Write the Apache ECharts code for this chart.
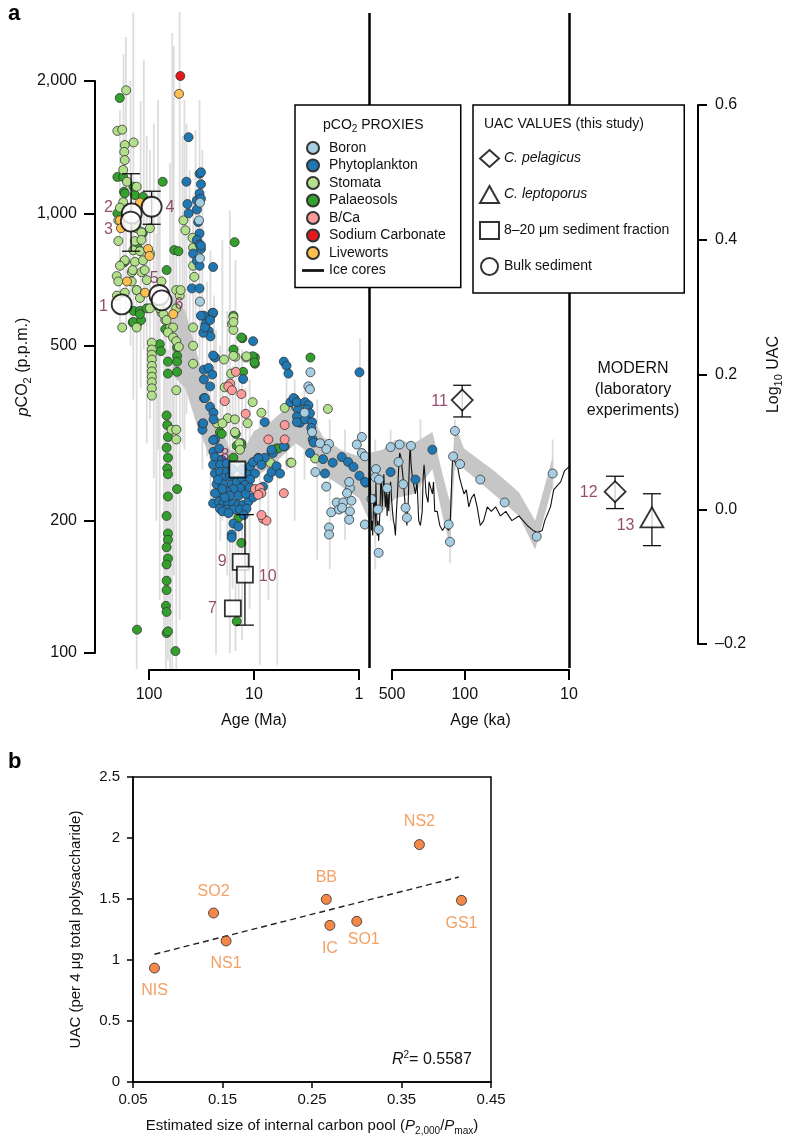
<!DOCTYPE html>
<html><head><meta charset="utf-8">
<script src="https://cdn.jsdelivr.net/npm/echarts@6/dist/echarts.min.js"></script>
<style>html,body{margin:0;padding:0;background:#fff}#c{width:786px;height:1139px}</style>
</head><body><div id="c"></div>
<script>
const FONT = '"Liberation Sans", Arial, Helvetica, sans-serif';

// ---------- Panel a: pCO2 proxies [age (Ma), pCO2 (p.p.m.)] ----------
const boron = [[32.7,1058],[33.4,964],[32.7,790],[32.7,630],[2.9,435],[3.04,404],[2.93,398],[1.93,299],[2.05,291],[2.6,258],[2.05,239],[1.63,220],[1.41,220],[1.18,222],[1.22,237],[1.24,245],[1.84,209],[1.22,210],[1.24,201],[1.93,193],[1.93,186],[0.94,310],[1.05,298],[0.94,285],[0.88,280],[0.88,196],[0.65,169],[0.69,262],[0.70,251],[0.645,248],[0.65,191],[0.66,212],[0.76,224],[0.50,294],[0.41,298],[0.32,296],[0.42,272],[0.38,242],[0.36,214],[0.35,203],[0.54,237],[0.136,179],[0.122,320],[0.127,280],[0.109,269],[0.07,248],[0.041,220],[0.0203,184],[0.0143,256],[0.14,196],[2.35,300],[1.55,212],[1.45,214],[1.3,231],[3.3,352],[2.8,318]];
const phytoplankton = [[42,1490],[44,1180],[33,1230],[32,1165],[33,1110],[35,1070],[43,1050],[42,1000],[35,1020],[34,955],[33,900],[35,870],[33,850],[32,830],[38,810],[35,780],[33,760],[24.5,755],[39,675],[33,675],[30,585],[29,560],[27,540],[26,525],[24.5,594],[30.4,535],[10.2,512],[5.2,460],[4.9,450],[0.99,435],[23.5,470],
[30,441],[30,419],[30,380],[31,332],[31,322],[32,1240],[32,1080],[32,845],[32,585],[29.3,550],[26.2,572],[24.5,475],[27,445],[25,430],[26.2,404],[29.3,380],[26.2,363],[24.3,352],[24.3,340],[30.5,333],[23.5,306],[24.3,287],[4.7,432],[4.5,372],[4.1,378],[3.8,358],[3.65,334],[12.7,420],[7.9,335],[9.1,278],[6.8,287],[7.9,278],
[24.5,305],[21.5,292],[23.5,279],[20.3,275],[24.5,268],[21,268],[18.2,270],[23.5,256],[21,258],[18.2,258],[19.6,250],[16.9,252],[22.7,242],[19.6,242],[16.3,242],[14.6,245],[13.1,250],[11.8,256],[10.9,266],[10.2,272],[9.1,277],[8.5,268],[9.8,256],[10.9,248],[12.2,241],[13.6,237],[15.7,236],[18.2,233],[21.1,231],[23.5,231],[24.5,219],[21.6,221],[19.6,219],[17.6,219],[15.7,219],[14.1,217],[12.7,217],[11.3,221],[10.2,226],[9.1,231],[8.2,239],[7.3,250],[6.8,258],[21.1,213],[18.2,212],[15.7,212],[13.6,212],[11.8,213],[15.7,197],[14.1,194],[16.3,186],[16.3,183],[6.6,285],[6.1,266],[5.65,256],[5.2,295],[6.8,290],
[17,228],[19,226],[20,236],[22,248],[14,228],[12,230],[16,262],[13,262],[20,210],[17.5,208],[12.5,206],[11,238],
[4.2,380],[3.9,372],[3.27,372],[3.03,366],[3.15,358],[2.93,351],[3.9,345],[3.9,335],[3.27,340],[2.8,335],[2.85,325],[2.76,306],[2.7,301],[2.93,285],[2.2,276],[1.78,271],[1.46,279],[1.27,272],[1.13,265],[0.99,253],[0.86,244],[2.11,256],
[0.5,258],[0.2,290],[0.29,248],[0.877,245]];
const stomata = [[165,1905],[200,1540],[180,1550],[170,1430],[140,1450],[172,1380],[170,1322],[176,1255],[162,1180],[131,1150],[176,1060],[189,1030],[196,964],[131,925],[118,905],[98,925],[196,865],[136,865],[118,870],[141,824],[122,820],[98,810],[170,782],[136,776],[114,782],[203,720],[146,735],[118,735],[196,700],[146,700],[105,705],[131,669],[170,660],[122,642],[98,608],[76,700],[55,669],[51,650],[180,550],[131,550],[76,595],[70,572],[63,550],[55,608],[79,608],[73,590],[68,572],[59,550],[66,536],[59,522],[55,512],[52,497],[189,760],[143,743],[110,743],[202,650],
[47,964],[45,915],[38.5,880],[38,835],[38,760],[37,717],[50,669],[38,550],[16.2,560],[15.7,543],[11.9,470],[15,472],
[15.7,580],[15.7,566],[15.7,474],[11.8,473],[19.3,465],[16.5,432],[19,402],[10.3,372],[17.8,342],[22.6,333],[20,333],[15.2,340],[8.5,352],[11.5,333],[15.2,318],[13.8,300],[5.1,361],[4,363],[3.4,361],
[7,271],[4.5,271],[13.6,290],[3.9,363],[3.4,358],[1.98,359],[4.4,271],[2.62,277],
[55,396],[61,322],[55,322],[55,306],[38,500],[38,455],
[94,508],[94,490],[94,477],[94,465],[94,450],[94,437],[94,425],[94,413],[94,400],[94,385]];
const palaeosols = [[190,1830],[200,1210],[176,1210],[173,1120],[170,1110],[141,1150],[136,1100],[114,1090],[74,1180],[200,1000],[116,905],[115,900],[128,835],[173,775],[170,776],[68,743],[140,600],[122,600],[143,565],[130,560],[141,566],[119,572],[122,590],[105,608],[70,545],[131,669],[57.5,825],[52.5,820],[15.3,860],[15.7,585],[12.9,520],[15.7,490],[9.8,470],[9.8,455],[2.9,470],[25,590],
[79,504],[77,486],[66,460],[66,432],[54,495],[54,474],[54,460],[54,436],[68,347],[67,330],[66,310],[68,293],[66,278],[67,263],[66,255],[66,227],[68,205],[66,187],[66,181],[68,174],[66,164],[68,159],[68,146],[68,139],[69,128],[68,124],[68,111],[66,112],[56,101],[130,113],[54,236],
[24.8,594],[13.2,522],[10.3,473],[9.9,458],[12.7,436],[21.1,318],[20.3,315],[14.9,315],[13.2,300],[15.7,278],[6.1,292],[5.1,295],
[14.6,296],[13.2,296],[5.85,292],[14.1,203],[13.2,178],[14.6,118]];
const bca = [[14.9,436],[16.9,410],[17.6,404],[16.2,396],[19,374],[13.2,388],[12,350],[7.3,306],[5.1,306],[5.1,330],[9.8,236],[8.8,237],[8.5,231],[9.1,229],[5.2,231],[8.2,202],[7.6,200],[8.5,206]];
const sodiumCarbonate = [[50.3,2053]];
const liveworts = [[122,1058],[189,964],[185,925],[102,830],[99,800],[162,700],[109,660],[58.8,590],[51.7,1870]];

// Ice cores [age (ka), pCO2]
const iceAgeKa = [800,790,780,770,760,750,740,730,720,710,
700,690,680,670,660,650,640,630,620,610,
600,590,580,570,560,550,540,530,520,510,
500,
490,480,470,460,450,440,430,420,410,400,
390,380,370,360,350,340,330,
325,320,310,300,290,
280,270,260,250,245,
240,235,230,220,215,
210,200,195,190,180,
170,160,150,140,135,
130,128,125,120,115,
110,105,100,95,90,
85,80,75,70,65,
60,55,50,45,40,
35,30,25,22,20,
18,17,15,14,13,
12,11,10];
const iceCO2 = [195,230,250,215,190,200,185,210,230,220,
190,245,210,185,200,180,195,215,250,240,
215,235,255,230,215,235,205,230,210,240,
245,
225,210,200,195,185,210,230,260,285,280,
265,250,230,210,195,220,280,
298,270,250,240,230,
245,200,195,210,250,
268,250,230,220,245,
240,230,245,210,210,
195,190,195,190,200,
260,282,275,270,265,
250,240,230,235,215,
225,230,215,195,200,
215,210,215,205,210,
200,205,195,190,188,
190,200,215,235,240,
245,260,265];

// Smoothed envelope [age (Ma)] low / high pCO2
const bandAge  = [60,45,35,28,22,17,13,10,7,5,4,3,2.2,1.5,1,0.8,0.6,0.45,0.3,0.2,0.16,0.136,0.122,0.1,0.05,0.03,0.021,0.0143];
const bandLow  = [430,400,330,290,250,225,230,250,265,285,300,285,255,240,225,200,210,225,230,262,205,175,270,262,228,205,172,240];
const bandHigh = [650,600,480,400,340,290,285,320,335,360,380,355,310,290,280,285,290,305,300,318,255,220,330,292,258,232,200,280];

// Proxy uncertainty ranges [age (Ma)] low / high pCO2
const errAge  = [189,166,141,131,112,98,82,79,69,66,60,55,51,46,41,36,33,31,26,23,20,17,15,13,11,8.8,7.3,6,4.9,4.1,3.3,2.5,1.9,1.36,0.98,0.7,0.5,0.26,0.136,0.122,0.0143,
                 175,150,120,105,90,85,72,63,58,48,44,38,28,24,21,18,16,14,12];
const errLow  = [543,543,377,92,490,340,290,132,92,96,92,92,119,290,377,419,465,261,224,99,200,100,101,107,126,94,132,94,261,200,248,163,155,181,261,155,200,212,160,261,236,
                 700,500,400,300,250,200,110,92,150,300,350,400,280,240,180,150,140,120,150];
const errHigh = [1718,2518,2860,635,2230,1394,1810,1192,635,490,2570,824,2870,1810,1255,1548,1810,1394,824,543,869,1017,782,490,419,340,377,306,441,419,397,377,340,322,520,306,322,340,224,340,306,
                 2300,2000,1800,1500,1600,900,700,1300,2400,1500,1600,1100,700,650,500,600,450,500,400];

// UAC values (this study): log10 UAC
const bulkIds = ['1','2','3','4','5','6'];
const bulkAge = [182,146,149,94.3,79.8,75.7];
const bulkUAC = [0.304,0.439,0.427,0.449,0.318,0.310];
const fracIds = ['7','8','9','10'];
const fracAge = [15.9,14.4,13.4,12.2];
const fracUAC = [-0.147,0.059,-0.078,-0.097];
const pelFossilIds = ['11'];
const pelFossilAge = [0.104];
const pelFossilUAC = [0.162];
const uacErrAge = [148,94.3,12.2,0.104];
const uacErrLow = [0.383,0.423,-0.172,0.137];
const uacErrHigh = [0.498,0.472,-0.008,0.184];
// Modern (laboratory experiments)
const modernSlots = ['m0','m1','m2','m3','m4','m5','m6'];
const modernPel = {id:'12', slot:2, uac:0.026, lo:0.001, hi:0.049};
const modernLep = {id:'13', slot:4, uac:-0.012, lo:-0.054, hi:0.023};

// ---------- Panel b ----------
const bNames = ['NIS','SO2','NS1','BB','IC','SO1','NS2','GS1'];
const bX = [0.074,0.140,0.154,0.266,0.270,0.300,0.370,0.417];
const bY = [0.934,1.385,1.156,1.497,1.284,1.317,1.946,1.489];
const fitX = [0.074,0.414];
const fitY = [1.047,1.680];
const bXTicks = [0.05,0.15,0.25,0.35,0.45];

// ---------- styles ----------
const MAROON = '#7b2148';
const uacLabelPos = {
 '1': {position:'left', distance:3, offset:[0,2]},
 '2': {position:'left', distance:8, offset:[0,-6]},
 '3': {position:'left', distance:7, offset:[0,8]},
 '4': {position:'right', distance:3, offset:[0,1]},
 '5': {position:'top', distance:-2, offset:[-5,0]},
 '6': {position:'right', distance:2, offset:[0,4]},
 '7': {position:'left', distance:7, offset:[0,0]},
 '8': {position:'left', distance:-1, offset:[0,-14]},
 '9': {position:'left', distance:5, offset:[0,0]},
 '10': {position:'right', distance:5, offset:[0,2]},
 '11': {position:'left', distance:3, offset:[0,1]},
 '12': {position:'left', distance:6, offset:[0,1]},
 '13': {position:'left', distance:5, offset:[0,8]}
};
const bLabelPos = {
 NIS:{position:'bottom', distance:9}, SO2:{position:'top', distance:8}, NS1:{position:'bottom', distance:9},
 BB:{position:'top', distance:8}, IC:{position:'bottom', distance:10}, SO1:{position:'bottom', distance:5, offset:[7,0]},
 NS2:{position:'top', distance:9}, GS1:{position:'bottom', distance:10}
};

const zip = (a,b) => a.map((v,i)=>[v,b[i]]);
const rows3 = (a,b,c) => a.map((v,i)=>[v,b[i],c[i]]);

function vRange(color, width){
  return function(params, api){
    const p1 = api.coord([api.value(0), api.value(1)]);
    const p2 = api.coord([api.value(0), api.value(2)]);
    return {type:'line', shape:{x1:p1[0],y1:p1[1],x2:p2[0],y2:p2[1]}, style:{stroke:color, lineWidth:width, opacity:0.8}};
  };
}
function errBar(params, api){
  const x = api.value(0);
  const lo = api.coord([x, api.value(1)]);
  const hi = api.coord([x, api.value(2)]);
  const w = 9, st = {stroke:'#111', lineWidth:1.3};
  return {type:'group', children:[
    {type:'line', shape:{x1:lo[0],y1:lo[1],x2:hi[0],y2:hi[1]}, style:st},
    {type:'line', shape:{x1:lo[0]-w,y1:lo[1],x2:lo[0]+w,y2:lo[1]}, style:st},
    {type:'line', shape:{x1:hi[0]-w,y1:hi[1],x2:hi[0]+w,y2:hi[1]}, style:st}
  ]};
}
function bandRender(params, api){
  if (params.dataIndex !== 0) return;
  const pts = [];
  for (let i=0;i<bandAge.length;i++) pts.push(api.coord([bandAge[i], bandHigh[i]]));
  for (let i=bandAge.length-1;i>=0;i--) pts.push(api.coord([bandAge[i], bandLow[i]]));
  return {type:'polygon', shape:{points:pts}, style:{fill:'#c6c6c6'}};
}

function proxy(name, data, color){
  return {type:'scatter', name, xAxisIndex:0, yAxisIndex:0, data, symbol:'circle', symbolSize:9, clip:false, z:4,
    itemStyle:{color, borderColor:'#333', borderWidth:0.8, opacity:1}};
}
const uacLabel = {show:true, formatter:'{b}', color:MAROON, fontSize:16, fontFamily:FONT};
function uacItems(ids, xs, ys){ return ids.map((id,i)=>({name:id, value:[xs[i], ys[i]], label:uacLabelPos[id]})); }
const hollow = {color:'#fff', borderColor:'#000', borderWidth:1.8};

const logAgeAxis = (gi) => ({gridIndex:gi, type:'log', logBase:10, min:0.01, max:1000, inverse:true, show:false});
const axisTxt = {color:'#111', fontSize:16, fontFamily:FONT};

const option = {
  animation:false,
  backgroundColor:'#fff',
  textStyle:{fontFamily:FONT},
  grid:[
    {left:44, top:81, width:525, height:572},   // 0 pCO2 data
    {left:44, top:105, width:525, height:539},  // 1 UAC fossil
    {left:569, top:105, width:129, height:539}, // 2 modern + right axis
    {left:149, top:600, width:210, height:70},  // 3 Ma axis
    {left:392, top:600, width:177, height:70},  // 4 ka axis
    {left:95, top:81, width:20, height:572},    // 5 pCO2 axis
    {left:44, top:13, width:525, height:655},   // 6 separators
    {left:133, top:777, width:358, height:305, show:true, borderColor:'#000', borderWidth:1.5} // 7 panel b
  ],
  xAxis:[
    logAgeAxis(0), logAgeAxis(1),
    {gridIndex:2, type:'category', data:modernSlots, show:false},
    {gridIndex:3, type:'log', logBase:10, min:1, max:100, inverse:true, position:'bottom',
      axisLine:{show:true, lineStyle:{color:'#000', width:2}},
      axisTick:{show:true, length:10, lineStyle:{color:'#000', width:2}, customValues:[1,10,100]},
      axisLabel:{show:true, margin:17, ...axisTxt, customValues:[1,10,100], formatter:v=>String(Math.round(v))},
      splitLine:{show:false}, minorTick:{show:false},
      name:'Age (Ma)', nameLocation:'middle', nameGap:43, nameTextStyle:{...axisTxt}},
    {gridIndex:4, type:'log', logBase:10, min:10, max:500, inverse:true, position:'bottom',
      axisLine:{show:true, lineStyle:{color:'#000', width:2}},
      axisTick:{show:true, length:10, lineStyle:{color:'#000', width:2}, customValues:[10,100,500]},
      axisLabel:{show:true, margin:17, ...axisTxt, customValues:[10,100,500], formatter:v=>String(Math.round(v))},
      splitLine:{show:false},
      name:'Age (ka)', nameLocation:'middle', nameGap:43, nameTextStyle:{...axisTxt}},
    {gridIndex:5, type:'value', show:false},
    logAgeAxis(6),
    {gridIndex:7, type:'value', min:0.05, max:0.45,
      axisLine:{show:true, onZero:false, lineStyle:{color:'#000', width:1.5}},
      axisTick:{show:true, length:6, lineStyle:{color:'#000', width:1.5}, customValues:bXTicks},
      axisLabel:{show:true, margin:10, color:'#111', fontSize:15, customValues:bXTicks, formatter:v=>v.toFixed(2)},
      splitLine:{show:false},
      name:'Estimated size of internal carbon pool ({i|P}{s|2,000}/{i|P}{s|max})', nameLocation:'middle', nameGap:34,
      nameTextStyle:{color:'#111', fontSize:15, lineHeight:20, rich:{i:{fontStyle:'italic', fontSize:15, lineHeight:20, color:'#111'}, s:{fontSize:10, lineHeight:10, verticalAlign:'bottom', color:'#111'}}}}
  ],
  yAxis:[
    {gridIndex:0, type:'log', logBase:10, min:100, max:2000, show:false},
    {gridIndex:1, type:'value', min:-0.2, max:0.6, show:false},
    {gridIndex:2, type:'value', min:-0.2, max:0.6, interval:0.2, position:'right',
      axisLine:{show:true, lineStyle:{color:'#000', width:2}},
      axisTick:{show:true, length:9, lineStyle:{color:'#000', width:2}},
      axisLabel:{show:true, margin:17, ...axisTxt, formatter:v=>{const r=Math.round(v*10)/10; return (r<0?'\u2013':'')+Math.abs(r).toFixed(1);}},
      splitLine:{show:false},
      name:'Log{s|10} UAC', nameLocation:'middle', nameRotate:90, nameGap:66,
      nameTextStyle:{...axisTxt, lineHeight:20, rich:{s:{fontSize:11, lineHeight:11, verticalAlign:'bottom', color:'#111'}}}},
    {gridIndex:3, type:'value', show:false},
    {gridIndex:4, type:'value', show:false},
    {gridIndex:5, type:'log', logBase:10, min:100, max:2000, position:'left',
      axisLine:{show:true, lineStyle:{color:'#000', width:2}},
      axisTick:{show:true, length:11, lineStyle:{color:'#000', width:2}, customValues:[100,200,500,1000,2000]},
      axisLabel:{show:true, margin:18, ...axisTxt, customValues:[100,200,500,1000,2000], formatter:v=>Math.round(v).toLocaleString('en-US')},
      splitLine:{show:false},
      name:'{i|p}CO{s|2} (p.p.m.)', nameLocation:'middle', nameGap:51,
      nameTextStyle:{...axisTxt, lineHeight:20, rich:{i:{fontStyle:'italic', fontSize:16, lineHeight:20, color:'#111'}, s:{fontSize:11, lineHeight:11, verticalAlign:'bottom', color:'#111'}}}},
    {gridIndex:6, type:'value', min:0, max:1, show:false},
    {gridIndex:7, type:'value', min:0, max:2.5, interval:0.5,
      axisLine:{show:true, lineStyle:{color:'#000', width:1.5}},
      axisTick:{show:true, length:6, lineStyle:{color:'#000', width:1.5}},
      axisLabel:{show:true, margin:13, color:'#111', fontSize:15},
      splitLine:{show:false},
      name:'UAC (per 4 \u03bcg total polysaccharide)', nameLocation:'middle', nameGap:50,
      nameTextStyle:{color:'#111', fontSize:15}}
  ],
  legend:[
    {orient:'vertical', left:295, top:105, padding:[36,15,10,7], itemGap:3.5, itemWidth:22, itemHeight:12,
      backgroundColor:'#fff', borderColor:'#000', borderWidth:1.5, borderRadius:0, selectedMode:false, z:10,
      textStyle:{fontSize:14, color:'#111', lineHeight:14},
      data:[{name:'Boron',icon:'circle'},{name:'Phytoplankton',icon:'circle'},{name:'Stomata',icon:'circle'},{name:'Palaeosols',icon:'circle'},
            {name:'B/Ca',icon:'circle'},{name:'Sodium Carbonate',icon:'circle'},{name:'Liveworts',icon:'circle'},
            {name:'Ice cores', icon:'path://M0,0L16,0L16,2L0,2Z', itemStyle:{color:'#111', borderWidth:0}}]},
    {orient:'vertical', left:473, top:105, padding:[44,15,17,6], itemGap:17, itemWidth:19, itemHeight:17,
      backgroundColor:'#fff', borderColor:'#000', borderWidth:1.5, borderRadius:0, selectedMode:false, z:10,
      textStyle:{fontSize:14, color:'#111', rich:{it:{fontStyle:'italic', fontSize:14, color:'#111'}}},
      formatter:n => n.indexOf('C. ')===0 ? '{it|'+n+'}' : n,
      data:[{name:'C. pelagicus',icon:'diamond'},{name:'C. leptoporus',icon:'triangle'},{name:'8\u201320 \u03bcm sediment fraction',icon:'rect'},{name:'Bulk sediment',icon:'circle'}]}
  ],
  graphic:[
    {type:'text', x:8, y:3, z:20, style:{text:'a', font:'bold 22px '+FONT, fill:'#000'}},
    {type:'text', x:8, y:751, z:20, style:{text:'b', font:'bold 22px '+FONT, fill:'#000'}},
    {type:'text', x:323, y:116, z:20, style:{text:'{n|pCO}{s|2}{n| PROXIES}', font:'14px '+FONT, fill:'#111',
      rich:{n:{fontSize:14, lineHeight:18, fill:'#111', fontFamily:FONT}, s:{fontSize:10, lineHeight:10, verticalAlign:'bottom', fill:'#111', fontFamily:FONT}}}},
    {type:'text', x:484, y:117, z:20, style:{text:'UAC VALUES (this study)', font:'14px '+FONT, fill:'#111'}},
    {type:'text', x:633, y:358, z:20, style:{text:'MODERN\n(laboratory\nexperiments)', font:'16px '+FONT, fill:'#111', align:'center', textAlign:'center', lineHeight:21}},
    {type:'text', x:392, y:1050, z:20, style:{text:'{i|R}{sup|2}{n|= 0.5587}', font:'16px '+FONT, fill:'#111',
      rich:{i:{fontStyle:'italic', fontSize:16, lineHeight:20, fill:'#111', fontFamily:FONT}, sup:{fontSize:10, lineHeight:10, verticalAlign:'top', fill:'#111', fontFamily:FONT}, n:{fontSize:16, lineHeight:20, fill:'#111', fontFamily:FONT}}}}
  ],
  series:[
    {type:'line', name:'sep', xAxisIndex:6, yAxisIndex:6, data:[[1,0.5]], symbol:'none', lineStyle:{width:0}, silent:true, z:1,
      markLine:{silent:true, symbol:'none', label:{show:false}, lineStyle:{color:'#000', width:2.5, type:'solid'}, data:[{xAxis:0.8},{xAxis:0.01}]}},
    {type:'custom', name:'err', xAxisIndex:0, yAxisIndex:0, data:rows3(errAge, errLow, errHigh), renderItem:vRange('#d4d4d4', 1.8), silent:true, z:1},
    {type:'custom', name:'band', xAxisIndex:0, yAxisIndex:0, data:rows3(bandAge, bandLow, bandHigh), renderItem:bandRender, silent:true, z:2},
    {type:'line', name:'Ice cores', xAxisIndex:0, yAxisIndex:0, data:iceAgeKa.map((a,i)=>[a/1000, iceCO2[i]]), symbol:'none', showSymbol:false,
      lineStyle:{color:'#111', width:1.1}, itemStyle:{color:'#111'}, z:3, clip:false},
    proxy('Palaeosols', palaeosols, '#33a02c'),
    proxy('Stomata', stomata, '#b2df8a'),
    proxy('Liveworts', liveworts, '#fdbf4f'),
    proxy('Phytoplankton', phytoplankton, '#1f78b4'),
    proxy('Boron', boron, '#a6cee3'),
    proxy('B/Ca', bca, '#fb9a99'),
    proxy('Sodium Carbonate', sodiumCarbonate, '#e31a1c'),
    {type:'custom', name:'uacErr', xAxisIndex:1, yAxisIndex:1, data:rows3(uacErrAge, uacErrLow, uacErrHigh), renderItem:errBar, silent:true, z:6},
    {type:'custom', name:'modErr', xAxisIndex:2, yAxisIndex:2, data:[[modernPel.slot, modernPel.lo, modernPel.hi],[modernLep.slot, modernLep.lo, modernLep.hi]], renderItem:errBar, silent:true, z:6},
    {type:'scatter', name:'Bulk sediment', xAxisIndex:1, yAxisIndex:1, symbol:'circle', symbolSize:20, data:uacItems(bulkIds, bulkAge, bulkUAC), itemStyle:hollow, label:uacLabel, z:7, clip:false},
    {type:'scatter', name:'8\u201320 \u03bcm sediment fraction', xAxisIndex:1, yAxisIndex:1, symbol:'rect', symbolSize:16, data:uacItems(fracIds, fracAge, fracUAC), itemStyle:hollow, label:uacLabel, z:7, clip:false},
    {type:'scatter', name:'C. pelagicus', xAxisIndex:1, yAxisIndex:1, symbol:'diamond', symbolSize:[21,21], data:uacItems(pelFossilIds, pelFossilAge, pelFossilUAC), itemStyle:hollow, label:uacLabel, z:7, clip:false},
    {type:'scatter', name:'C. pelagicus', xAxisIndex:2, yAxisIndex:2, symbol:'diamond', symbolSize:[21,21], data:[{name:modernPel.id, value:[modernPel.slot, modernPel.uac], label:uacLabelPos[modernPel.id]}], itemStyle:hollow, label:uacLabel, z:7, clip:false},
    {type:'scatter', name:'C. leptoporus', xAxisIndex:2, yAxisIndex:2, symbol:'triangle', symbolSize:[23,20], data:[{name:modernLep.id, value:[modernLep.slot, modernLep.uac], label:uacLabelPos[modernLep.id]}], itemStyle:hollow, label:uacLabel, z:7, clip:false},
    {type:'line', name:'fit', xAxisIndex:7, yAxisIndex:7, data:zip(fitX, fitY), symbol:'none', lineStyle:{color:'#222', width:1.4, type:[6,4]}, z:3, silent:true},
    {type:'scatter', name:'sites', xAxisIndex:7, yAxisIndex:7, symbolSize:10, z:4,
      data:bNames.map((n,i)=>({name:n, value:[bX[i], bY[i]], label:bLabelPos[n]})),
      itemStyle:{color:'#f26a1b', borderColor:'#2a2a2a', borderWidth:1},
      label:{show:true, formatter:'{b}', color:'#f0883e', fontSize:16}}
  ]
};
const chart = echarts.init(document.getElementById('c'), null, {renderer:'canvas', width:786, height:1139});
chart.setOption(option);
</script></body></html>
